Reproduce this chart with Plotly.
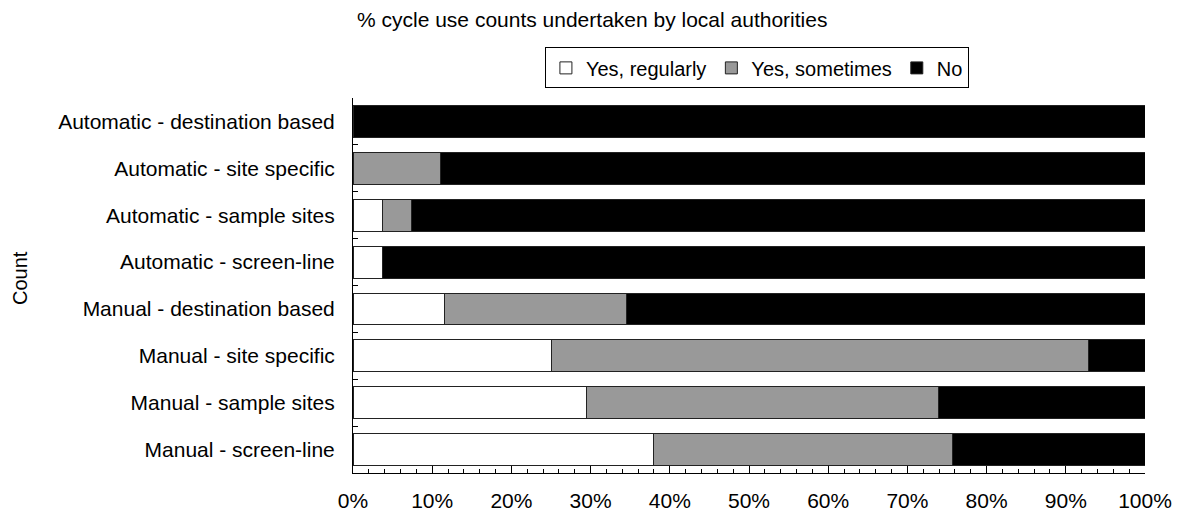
import plotly.graph_objects as go

# Count types, top to bottom
categories = [
    "Automatic - destination based",
    "Automatic - site specific",
    "Automatic - sample sites",
    "Automatic - screen-line",
    "Manual - destination based",
    "Manual - site specific",
    "Manual - sample sites",
    "Manual - screen-line",
]

# Share of local authorities (%) per response
yes_regularly = [0.0, 0.0, 3.7, 3.7, 11.6, 25.0, 29.5, 37.9]
yes_sometimes = [0.0, 11.0, 3.7, 0.0, 22.9, 67.9, 44.4, 37.8]
no = [100.0, 89.0, 92.6, 96.3, 65.5, 7.1, 26.1, 24.3]

series = [
    ("Yes, regularly", yes_regularly, "#ffffff"),
    ("Yes, sometimes", yes_sometimes, "#999999"),
    ("No", no, "#000000"),
]

x_ticks = list(range(0, 101, 10))
x_tick_labels = [f"{v}%" for v in x_ticks]

FONT = "Liberation Sans, Arial, sans-serif"
FS = 21

fig = go.Figure()
for name, values, color in series:
    fig.add_trace(go.Bar(
        name=name,
        x=values,
        y=categories,
        orientation="h",
        marker=dict(color=color, line=dict(color="#222222", width=1)),
    ))

fig.update_layout(
    barmode="stack",
    bargap=0.32,
    width=1181,
    height=519,
    margin=dict(l=353, r=36, t=98, b=46),
    paper_bgcolor="white",
    plot_bgcolor="white",
    font=dict(family=FONT, size=FS, color="#000000"),
    title=dict(
        text="% cycle use counts undertaken by local authorities",
        x=357 / 1181, xanchor="left",
        y=1 - 20 / 519, yanchor="middle",
        font=dict(size=FS, family=FONT, color="#000000"),
    ),
    legend=dict(
        orientation="h",
        x=0.51, xanchor="center",
        y=1.135, yanchor="top",
        bordercolor="#000000",
        borderwidth=1,
        font=dict(size=20, family=FONT),
        traceorder="normal",
        itemwidth=30,
        tracegroupgap=0,
    ),
    showlegend=True,
)

fig.update_xaxes(
    automargin=False,
    range=[0, 100],
    tickvals=x_ticks,
    ticktext=x_tick_labels,
    ticks="inside",
    ticklen=7,
    tickcolor="#000000",
    showline=True,
    linecolor="#000000",
    linewidth=1,
    showgrid=False,
    zeroline=False,
    tickfont=dict(size=FS),
    ticklabelstandoff=9,
    minor=dict(dtick=2, tick0=0, ticks="inside", ticklen=4, tickcolor="#000000", showgrid=False),
)

fig.update_yaxes(
    automargin=False,
    autorange="reversed",
    type="category",
    tickson="boundaries",
    ticks="inside",
    ticklen=5,
    tickcolor="#000000",
    showline=True,
    linecolor="#000000",
    linewidth=1,
    showgrid=False,
    tickfont=dict(size=FS),
    ticklabelstandoff=13,
)

# Vertical axis caption placed at the far left of the figure
fig.add_annotation(
    text="Count", textangle=-90, xref="paper", yref="paper",
    x=-333 / 792, y=0.52, showarrow=False, font=dict(size=FS - 1, family=FONT),
    xanchor="center", yanchor="middle",
)

fig.write_html("out.html")
